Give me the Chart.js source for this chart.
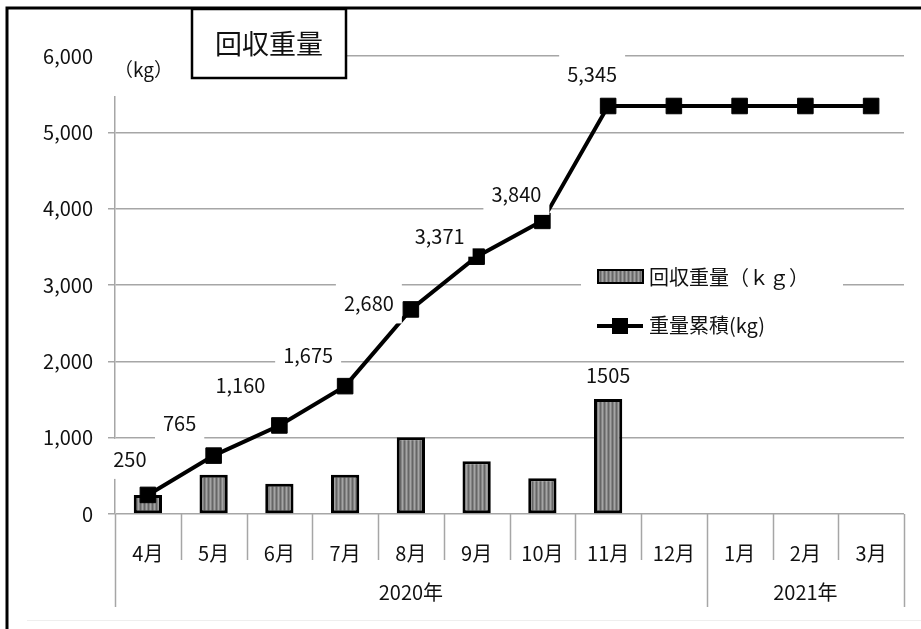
<!DOCTYPE html>
<html>
<head>
<meta charset="utf-8">
<script src="https://cdn.jsdelivr.net/npm/chart.js@4.4.0/dist/chart.umd.min.js"></script>
<style>
    html, body { margin: 0; padding: 0; background: #fff; }
    #wrap { width: 921px; height: 629px; position: relative; }
</style>
</head>
<body>
<div id="wrap"><canvas id="weightChart"></canvas></div>
<script>
// data
const months = ['4月', '5月', '6月', '7月', '8月', '9月', '10月', '11月', '12月', '1月', '2月', '3月'];
const yearGroups = ['2020年', '2021年'];
const yearSpans = [9, 3];
const monthlyWeight = [250, 515, 395, 515, 1005, 691, 469, 1505, null, null, null, null];
const cumulativeWeight = [250, 765, 1160, 1675, 2680, 3371, 3840, 5345, 5345, 5345, 5345, 5345];
const yMin = 0, yMax = 6000, yStep = 1000;

const barLabelIndexes = [7];
// label placement relative to each cumulative point (only first 8 are labelled)
const labelOffsets = [[-18, -36], [-34, -32], [-39, -40], [-37, -31], [-42, -6], [-37, -20], [-26, -26], [-16, -32]];

const FONT = "'Noto Sans CJK JP', 'Noto Sans', sans-serif";
const GRID = '#a6a6a6';
const TEXT = '#111';

function makeHatch() {
    const c = document.createElement('canvas');
    c.width = 4; c.height = 4;
    const g = c.getContext('2d');
    g.fillStyle = '#858585';
    g.fillRect(0, 0, 4, 4);
    g.fillStyle = '#666';
    g.fillRect(0, 0, 1, 4);
    g.fillStyle = '#a5a5a5';
    g.fillRect(2, 0, 1, 4);
    return g.createPattern(c, 'repeat');
}
const hatch = makeHatch();

function fmt(v) {
    return v.toLocaleString('en-US');
}

function whiteLabel(ctx, text, x, y, padX, padY, size) {
    ctx.font = size + 'px ' + FONT;
    const w = ctx.measureText(text).width;
    ctx.fillStyle = '#fff';
    ctx.fillRect(x - w / 2 - padX, y - size / 2 - padY, w + padX * 2, size + padY * 2);
    ctx.fillStyle = TEXT;
    ctx.textAlign = 'center';
    ctx.textBaseline = 'middle';
    ctx.fillText(text, x, y);
}

const labelPlugin = {
    id: 'labels',
    afterDatasetsDraw(chart) {
        const ctx = chart.ctx;
        ctx.save();
        const lineMeta = chart.getDatasetMeta(1);
        labelOffsets.forEach((off, i) => {
            const pt = lineMeta.data[i];
            whiteLabel(ctx, fmt(cumulativeWeight[i]), pt.x + off[0], pt.y + off[1], 8, 10, 20);
        });
        const barMeta = chart.getDatasetMeta(0);
        ctx.font = '20px ' + FONT;
        ctx.fillStyle = TEXT;
        ctx.textAlign = 'center';
        ctx.textBaseline = 'middle';
        barLabelIndexes.forEach(i => {
            const bar = barMeta.data[i];
            ctx.fillText(String(monthlyWeight[i]), bar.x, bar.y - 24);
        });
        ctx.restore();
    }
};

const decorPlugin = {
    id: 'decor',
    afterDraw(chart) {
        const ctx = chart.ctx;
        const area = chart.chartArea;
        const x = chart.scales.x;
        ctx.save();

        // category separators and year groups under the axis
        const half = (x.getPixelForValue(1) - x.getPixelForValue(0)) / 2;
        ctx.strokeStyle = GRID;
        ctx.lineWidth = 1.5;
        const groupEdges = [0];
        yearSpans.forEach(s => groupEdges.push(groupEdges[groupEdges.length - 1] + s));
        for (let i = 0; i <= months.length; i++) {
            const px = Math.round(x.getPixelForValue(i) - half) + 0.5;
            const long = groupEdges.includes(i);
            ctx.beginPath();
            ctx.moveTo(px, area.bottom);
            ctx.lineTo(px, area.bottom + (long ? 93 : 46));
            ctx.stroke();
        }
        ctx.font = '20px ' + FONT;
        ctx.fillStyle = TEXT;
        ctx.textAlign = 'center';
        ctx.textBaseline = 'middle';
        yearGroups.forEach((g, k) => {
            const a = x.getPixelForValue(groupEdges[k]) - half;
            const b = x.getPixelForValue(groupEdges[k + 1]) - half;
            ctx.fillText(g, (a + b) / 2, area.bottom + 78);
        });

        // unit label
        ctx.fillStyle = '#fff';
        ctx.fillRect(100, 40, 92, 56);
        ctx.font = '19px ' + FONT;
        ctx.fillStyle = TEXT;
        ctx.textAlign = 'left';
        ctx.fillText('（kg）', 114, 70);

        // title box
        ctx.fillStyle = '#fff';
        ctx.fillRect(192, 9, 154, 69);
        ctx.strokeStyle = '#000';
        ctx.lineWidth = 2.5;
        ctx.strokeRect(192, 9, 154, 69);
        ctx.font = '27px ' + FONT;
        ctx.fillStyle = TEXT;
        ctx.textAlign = 'center';
        ctx.fillText('回収重量', 269, 44);

        // legend
        ctx.fillStyle = '#fff';
        ctx.fillRect(581, 258, 262, 88);
        ctx.fillStyle = hatch;
        ctx.fillRect(598, 270, 45, 13);
        ctx.strokeStyle = '#000';
        ctx.lineWidth = 2;
        ctx.strokeRect(598, 270, 45, 13);
        ctx.lineWidth = 4;
        ctx.beginPath();
        ctx.moveTo(597, 326);
        ctx.lineTo(643, 326);
        ctx.stroke();
        ctx.fillStyle = '#000';
        ctx.fillRect(612, 318, 16, 16);
        ctx.font = '20px ' + FONT;
        ctx.fillStyle = TEXT;
        ctx.textAlign = 'left';
        ctx.fillText(chart.data.datasets[0].label, 649, 277);
        ctx.fillText(chart.data.datasets[1].label, 649, 325);

        // frame
        ctx.strokeStyle = '#000';
        ctx.lineWidth = 3;
        ctx.beginPath();
        ctx.moveTo(7, 629);
        ctx.lineTo(7, 8);
        ctx.lineTo(921, 8);
        ctx.stroke();
        ctx.strokeStyle = '#eeeeee';
        ctx.lineWidth = 1;
        ctx.beginPath();
        ctx.moveTo(27, 620.5);
        ctx.lineTo(921, 620.5);
        ctx.stroke();
        ctx.restore();
    }
};

const config = {
    type: 'bar',
    data: {
        labels: months,
        datasets: [
            {
                type: 'bar',
                label: '回収重量（ｋｇ）',
                data: monthlyWeight,
                backgroundColor: hatch,
                borderColor: '#000',
                borderWidth: 3,
                borderSkipped: false,
                categoryPercentage: 1,
                barPercentage: 0.43,
                order: 2,
            },
            {
                type: 'line',
                label: '重量累積(kg)',
                data: cumulativeWeight,
                borderColor: '#000',
                backgroundColor: '#000',
                borderWidth: 4,
                pointStyle: 'rect',
                pointRadius: 11,
                pointBorderWidth: 1,
                tension: 0,
                order: 1,
            }
        ]
    },
    plugins: [labelPlugin, decorPlugin],
    options: {
        responsive: true,
        maintainAspectRatio: false,
        animation: false,
        layout: { padding: { left: 10, right: 17, top: 56, bottom: 0 } },
        plugins: {
            legend: { display: false },
            tooltip: { enabled: false },
        },
        scales: {
            x: {
                offset: true,
                grid: { display: false },
                border: { display: false },
                ticks: {
                    color: TEXT,
                    font: { family: FONT, size: 20 },
                    padding: 19,
                    maxRotation: 0,
                    autoSkip: false,
                },
                afterFit(scale) { scale.height = 115; },
            },
            y: {
                min: yMin,
                max: yMax,
                ticks: {
                    stepSize: yStep,
                    color: TEXT,
                    font: { family: FONT, size: 20 },
                    padding: 15,
                    callback: v => fmt(v),
                },
                grid: { color: GRID, lineWidth: 1.5, tickLength: 7 },
                border: { display: true, color: GRID, width: 1.5 },
                afterFit(scale) { scale.width = 105; },
            }
        }
    }
};

new Chart(document.getElementById('weightChart').getContext('2d'), config);
</script>
</body>
</html>
